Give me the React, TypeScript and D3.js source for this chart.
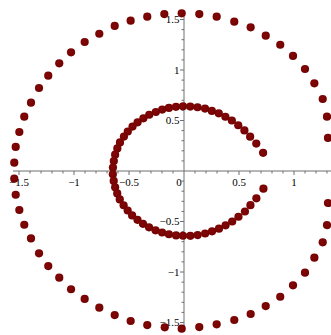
import React from "react";
import * as d3 from "d3";

// Outer ring of points, counter-clockwise from the upper-right end
const outerX = [1.309, 1.3, 1.261, 1.185, 1.1, 0.991, 0.875, 0.743, 0.606, 0.457, 0.297, 0.139, -0.021, -0.179, -0.334, -0.485, -0.63, -0.77, -0.903, -1.027, -1.134, -1.234, -1.318, -1.391, -1.452, -1.497, -1.53, -1.543, -1.543, -1.53, -1.497, -1.452, -1.391, -1.318, -1.234, -1.134, -1.027, -0.903, -0.77, -0.63, -0.485, -0.334, -0.175, -0.021, 0.139, 0.297, 0.457, 0.606, 0.743, 0.875, 0.991, 1.1, 1.185, 1.261, 1.3, 1.309];
const outerY = [0.327, 0.538, 0.713, 0.868, 1.01, 1.139, 1.25, 1.34, 1.423, 1.478, 1.528, 1.554, 1.561, 1.554, 1.528, 1.488, 1.436, 1.359, 1.277, 1.175, 1.066, 0.944, 0.822, 0.676, 0.538, 0.386, 0.238, 0.082, -0.076, -0.235, -0.386, -0.532, -0.668, -0.815, -0.941, -1.056, -1.171, -1.267, -1.353, -1.426, -1.485, -1.525, -1.548, -1.561, -1.545, -1.518, -1.475, -1.416, -1.337, -1.245, -1.132, -1.007, -0.858, -0.706, -0.535, -0.317];

// Inner ring of points, same order
const innerX = [0.719, 0.657, 0.601, 0.549, 0.493, 0.435, 0.376, 0.316, 0.253, 0.191, 0.123, 0.057, -0.009, -0.073, -0.137, -0.198, -0.256, -0.316, -0.369, -0.422, -0.468, -0.511, -0.546, -0.582, -0.606, -0.626, -0.638, -0.646, -0.647, -0.639, -0.626, -0.607, -0.584, -0.549, -0.512, -0.472, -0.423, -0.373, -0.318, -0.259, -0.199, -0.137, -0.072, -0.009, 0.058, 0.124, 0.192, 0.255, 0.318, 0.378, 0.438, 0.495, 0.554, 0.604, 0.658, 0.722];
const innerY = [0.18, 0.272, 0.34, 0.402, 0.453, 0.5, 0.537, 0.571, 0.595, 0.618, 0.631, 0.638, 0.641, 0.635, 0.625, 0.608, 0.584, 0.557, 0.522, 0.482, 0.44, 0.391, 0.341, 0.283, 0.224, 0.162, 0.099, 0.034, -0.032, -0.098, -0.162, -0.222, -0.281, -0.339, -0.391, -0.44, -0.483, -0.523, -0.558, -0.587, -0.609, -0.626, -0.638, -0.641, -0.642, -0.634, -0.619, -0.597, -0.571, -0.538, -0.5, -0.453, -0.401, -0.338, -0.271, -0.175];

const xTickValues = [-1.5, -1, -0.5, 0.5, 1];
const xTickLabels = ["\u22121.5", "\u22121", "\u22120.5", "0.5", "1"];
const yTickValues = [1.5, 1, 0.5, -0.5, -1, -1.5];
const yTickLabels = ["1.5", "1", "0.5", "\u22120.5", "\u22121", "\u22121.5"];
const originLabel = "0";

const W = 331;
const H = 335;

export default function App() {
  const x = d3.scaleLinear().domain([-1.5, 1]).range([19, 294]);
  const y = d3.scaleLinear().domain([-1.5, 1.5]).range([322.5, 19.5]);

  const xMinor = d3.range(-15, 14).map((i) => i / 10).filter((v) => Math.abs(v) > 1e-9);
  const yMinor = d3.range(-15, 16).map((i) => i / 10).filter((v) => Math.abs(v) > 1e-9);
  const isMajor = (v: number) => Math.abs(v * 2 - Math.round(v * 2)) < 1e-9;

  const axisColor = "#6e6e6e";
  const dotColor = "#720000";
  const font = "'Liberation Serif', 'Times New Roman', serif";

  const outer = outerX.map((v, i) => [v, outerY[i]]);
  const inner = innerX.map((v, i) => [v, innerY[i]]);

  return (
    <svg
      width={W}
      height={H}
      style={{ position: "absolute", left: 0, top: 0, background: "#fff" }}
    >
      <defs>
        <radialGradient id="dotShade" cx="42%" cy="40%" r="65%">
          <stop offset="0%" stopColor="#820808" />
          <stop offset="100%" stopColor={dotColor} />
        </radialGradient>
      </defs>
      {/* axes */}
      <line x1={x(-1.555)} x2={W} y1={y(0)} y2={y(0)} stroke={axisColor} strokeWidth={1} />
      <line x1={x(0)} x2={x(0)} y1={y(1.575)} y2={y(-1.575)} stroke={axisColor} strokeWidth={1} />
      {xMinor.map((v) => (
        <line
          key={"xt" + v}
          x1={x(v)}
          x2={x(v)}
          y1={y(0)}
          y2={y(0) + (isMajor(v) ? 4 : 2.5)}
          stroke={axisColor}
          strokeWidth={1}
        />
      ))}
      {yMinor.map((v) => (
        <line
          key={"yt" + v}
          x1={x(0)}
          x2={x(0) - (isMajor(v) ? 4 : 2.5)}
          y1={y(v)}
          y2={y(v)}
          stroke={axisColor}
          strokeWidth={1}
        />
      ))}
      {xTickValues.map((v, i) => (
        <text
          key={"xl" + v}
          x={x(v)}
          y={y(0) + 14.5}
          textAnchor="middle"
          fontFamily={font}
          fontSize={11}
          fill="#000"
        >
          {xTickLabels[i]}
        </text>
      ))}
      <text x={x(0) - 5} y={y(0) + 14.5} textAnchor="middle" fontFamily={font} fontSize={11} fill="#000">
        {originLabel}
      </text>
      {yTickValues.map((v, i) => (
        <text
          key={"yl" + v}
          x={x(0) - 4.5}
          y={y(v) + 3.8}
          textAnchor="end"
          fontFamily={font}
          fontSize={11}
          fill="#000"
        >
          {yTickLabels[i]}
        </text>
      ))}
      {/* points */}
      {outer.map((p, i) => (
        <circle key={"o" + i} cx={x(p[0])} cy={y(p[1])} r={4.1} fill="url(#dotShade)" />
      ))}
      {inner.map((p, i) => (
        <circle key={"i" + i} cx={x(p[0])} cy={y(p[1])} r={4.1} fill="url(#dotShade)" />
      ))}
    </svg>
  );
}
